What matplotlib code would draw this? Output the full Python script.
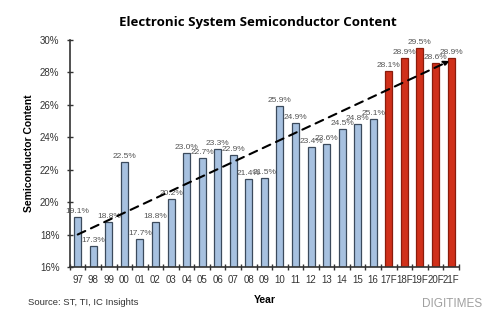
import matplotlib
matplotlib.use("Agg")
import matplotlib.pyplot as plt

plt.rcParams["font.family"] = ["Liberation Sans", "DejaVu Sans"]

years = ["97", "98", "99", "00", "01", "02", "03", "04", "05", "06", "07", "08",
         "09", "10", "11", "12", "13", "14", "15", "16", "17F", "18F", "19F", "20F", "21F"]
values = [19.1, 17.3, 18.8, 22.5, 17.7, 18.8, 20.2, 23.0, 22.7, 23.3, 22.9, 21.4,
          21.5, 25.9, 24.9, 23.4, 23.6, 24.5, 24.8, 25.1, 28.1, 28.9, 29.5, 28.6, 28.9]
forecast = [False] * 20 + [True] * 5
trend_start = 18.0
trend_end = 28.7
yticks = [16, 18, 20, 22, 24, 26, 28, 30]

fig = plt.figure(figsize=(4.96, 3.24), dpi=100)
ax = fig.add_axes([0.141, 0.176, 0.784, 0.701])

x = list(range(len(years)))
for xi, v, f in zip(x, values, forecast):
    fc = "#d0301a" if f else "#a7c1e0"
    ec = "#8a1c0c" if f else "#3b4a5c"
    ax.bar(xi, v - 16, bottom=16, width=0.45, color=fc, edgecolor=ec, linewidth=0.9, zorder=2)
    ax.text(xi, v + 0.12, f"{v:.1f}%", ha="center", va="bottom", fontsize=6.0,
            color="#555555", zorder=4)

ax.annotate("", xy=(x[-1] - 0.1, trend_end), xytext=(x[0], trend_start),
            arrowprops=dict(arrowstyle="-|>", linestyle=(0, (4, 3)), color="black",
                            lw=1.5, mutation_scale=8, shrinkA=0, shrinkB=0), zorder=5)

ax.set_xlim(-0.5, len(years) - 0.5)
ax.set_ylim(16, 30)
ax.set_yticks(yticks)
ax.set_yticklabels([f"{t}%" for t in yticks], fontsize=7, color="#333333")
ax.set_xticks(x)
ax.set_xticklabels(years, fontsize=7, color="#333333")
ax.tick_params(axis="x", length=0, pad=6)
ax.set_xticks([i - 0.5 for i in range(len(years) + 1)], minor=True)
ax.tick_params(axis="x", which="minor", direction="inout", length=5, color="#333333", width=1)
ax.tick_params(axis="y", direction="inout", length=5, color="#333333", width=1, pad=5)
for s in ["top", "right"]:
    ax.spines[s].set_visible(False)
for s in ["left", "bottom"]:
    ax.spines[s].set_color("#333333")
    ax.spines[s].set_linewidth(1.2)

ax.set_ylabel("Semiconductor Content", fontsize=7.5, fontweight="bold", labelpad=4)
ax.set_xlabel("Year", fontsize=7.5, fontweight="bold", labelpad=7)

fig.text(0.52, 0.93, "Electronic System Semiconductor Content", ha="center", va="center",
         fontsize=9.5, fontweight="bold", family="Open Sans")
fig.text(0.057, 0.065, "Source: ST, TI, IC Insights", ha="left", va="center", fontsize=6.8,
         color="#333333")
fig.text(0.912, 0.062, "DIGITIMES", ha="center", va="center", fontsize=8.5, color="#a0a0a0")

fig.savefig("out.png", dpi=100)
